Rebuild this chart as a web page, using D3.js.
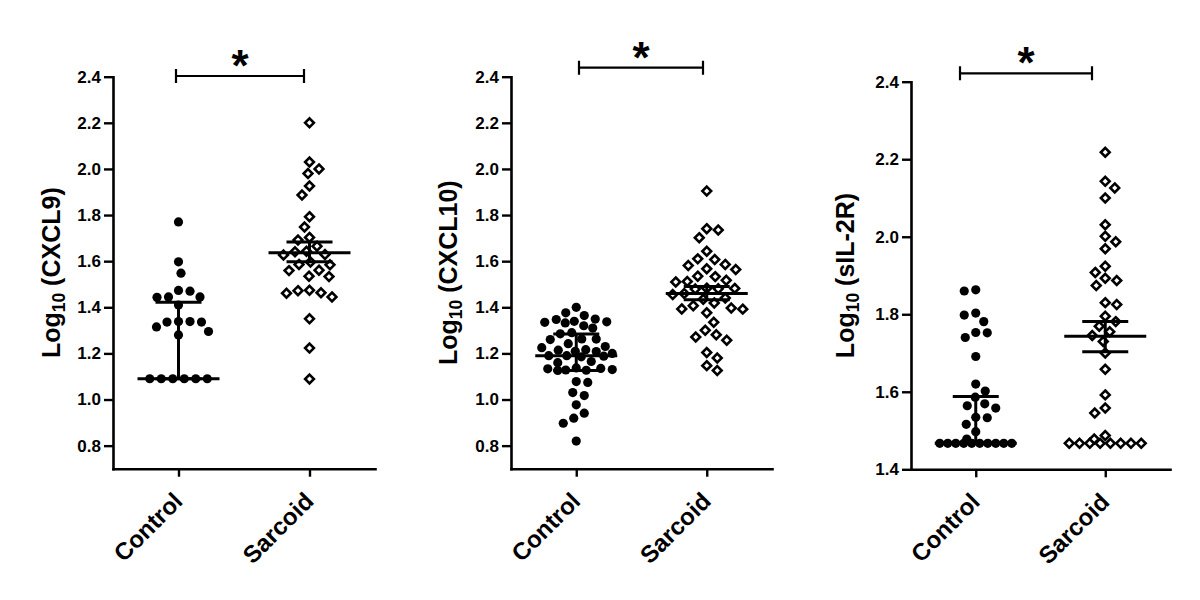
<!DOCTYPE html>
<html>
<head>
<meta charset="utf-8">
<script src="https://cdn.jsdelivr.net/npm/d3@7"></script>
<style>
  body { margin: 0; background: #fff; }
  svg { font-family: "Liberation Sans", Arial, sans-serif; font-weight: bold; }
</style>
</head>
<body>
<svg id="chart" width="1200" height="600"></svg>
<script>
const groups = ['Control', 'Sarcoid'];

const ticksWide = [0.8, 1.0, 1.2, 1.4, 1.6, 1.8, 2.0, 2.2, 2.4];
const ticksNarrow = [1.4, 1.6, 1.8, 2.0, 2.2, 2.4];

// log10 values
const cxcl9Control = [1.77, 1.597, 1.548, 1.473, 1.47, 1.445, 1.445, 1.443, 1.41, 1.338, 1.338, 1.336, 1.336,
  1.315, 1.295, 1.28, 1.09, 1.09, 1.09, 1.09, 1.09, 1.09];
const cxcl9Sarcoid = [2.20, 2.03, 2.0, 1.98, 1.926, 1.887, 1.793, 1.748, 1.703, 1.692, 1.665, 1.643, 1.641,
  1.629, 1.627, 1.596, 1.586, 1.584, 1.561, 1.559, 1.535, 1.533, 1.474, 1.472, 1.463, 1.461, 1.445, 1.35,
  1.223, 1.089];
const cxcl9Median = [1.09, 1.636];
const cxcl9Lower = [1.09, 1.598];
const cxcl9Upper = [1.422, 1.683];

const cxcl10Control = [1.40, 1.376, 1.364, 1.349, 1.347, 1.339, 1.337, 1.335, 1.332, 1.32, 1.31, 1.29, 1.285,
  1.263, 1.262, 1.26, 1.242, 1.23, 1.225, 1.216, 1.214, 1.209, 1.208, 1.20, 1.19, 1.19, 1.188, 1.185, 1.165,
  1.16, 1.137, 1.135, 1.133, 1.13, 1.128, 1.127, 1.126, 1.078, 1.074, 1.03, 1.017, 0.977, 0.941, 0.919,
  0.897, 0.82];
const cxcl10Sarcoid = [1.904, 1.741, 1.735, 1.702, 1.643, 1.61, 1.607, 1.586, 1.581, 1.567, 1.564, 1.535,
  1.533, 1.517, 1.512, 1.51, 1.483, 1.482, 1.48, 1.479, 1.46, 1.455, 1.44, 1.435, 1.419, 1.407, 1.397, 1.393,
  1.392, 1.376, 1.335, 1.30, 1.281, 1.271, 1.257, 1.204, 1.18, 1.147, 1.126];
const cxcl10Median = [1.19, 1.46];
const cxcl10Lower = [1.126, 1.433];
const cxcl10Upper = [1.284, 1.49];

const sil2rControl = [1.863, 1.86, 1.803, 1.798, 1.781, 1.753, 1.752, 1.740, 1.691, 1.620, 1.602, 1.586,
  1.569, 1.564, 1.558, 1.534, 1.533, 1.516, 1.497, 1.478,
  1.467, 1.467, 1.467, 1.467, 1.467, 1.467, 1.467, 1.467, 1.467, 1.467];
const sil2rSarcoid = [2.218, 2.143, 2.126, 2.10, 2.031, 2.001, 1.987, 1.969, 1.924, 1.908, 1.893, 1.887,
  1.874, 1.83, 1.825, 1.795, 1.781, 1.769, 1.755, 1.745, 1.73, 1.70, 1.658, 1.592, 1.558, 1.545, 1.487,
  1.478, 1.467, 1.467, 1.467, 1.467, 1.467, 1.467, 1.467, 1.467];
const sil2rMedian = [1.467, 1.743];
const sil2rLower = [1.467, 1.703];
const sil2rUpper = [1.588, 1.781];

const panels = [
  { name: 'CXCL9', series: [cxcl9Control, cxcl9Sarcoid], median: cxcl9Median, lower: cxcl9Lower, upper: cxcl9Upper,
    domain: [0.7, 2.4], ticks: ticksWide, left: 113, right: 375, top: 76.7, bottom: 468.7,
    labelX: 60, bracket: [176, 304, 76] },
  { name: 'CXCL10', series: [cxcl10Control, cxcl10Sarcoid], median: cxcl10Median, lower: cxcl10Lower, upper: cxcl10Upper,
    domain: [0.7, 2.4], ticks: ticksWide, left: 511, right: 772, top: 76.7, bottom: 468.7,
    labelX: 457, bracket: [579, 703, 67.7] },
  { name: 'sIL-2R', series: [sil2rControl, sil2rSarcoid], median: sil2rMedian, lower: sil2rLower, upper: sil2rUpper,
    domain: [1.4, 2.4], ticks: ticksNarrow, left: 911, right: 1170, top: 81.7, bottom: 469.3,
    labelX: 854, bracket: [960, 1092, 73.3] }
];

const svg = d3.select('#chart');
const spacing = 11.5;
const maxHalf = 36;

// column scatter: tied values become a row, the rest are placed greedily
// inside the column width (overlapping when the column is full)
function swarm(values, y) {
  const counts = d3.rollup(values, (v) => v.length, (v) => v);
  const rows = [];
  counts.forEach((k, v) => {
    if (k < 4) return;
    const s = Math.min(spacing, (2 * maxHalf) / (k - 1));
    for (let i = 0; i < k; i++) {
      rows.push({ value: v, dx: (i - (k - 1) / 2) * s, y: y(v) });
    }
  });
  const placed = [];
  const rest = values.filter((v) => counts.get(v) < 4).sort((a, b) => b - a);
  rest.forEach((v, i) => {
    const py = y(v);
    const gap = (x) => d3.min(placed, (p) => Math.hypot(p.dx - x, p.y - py)) ?? Infinity;
    const sign = i % 2 ? -1 : 1;
    let best = 0, bestGap = -1;
    for (let step = 0; step <= maxHalf; step += 0.5) {
      for (const x of [sign * step, -sign * step]) {
        const gp = gap(x);
        if (gp >= spacing) { best = x; bestGap = Infinity; break; }
        if (gp > bestGap + 0.5) { best = x; bestGap = gp; }
      }
      if (bestGap === Infinity) break;
    }
    placed.push({ value: v, dx: best, y: py });
  });
  return rows.concat(placed);
}

panels.forEach((p) => {
  const g = svg.append('g');

  const y = d3.scaleLinear().domain(p.domain).range([p.bottom, p.top]);
  const x = d3.scalePoint().domain(groups).range([p.left, p.right]).padding(0.5);

  // points
  p.series.forEach((values, gi) => {
    const cx = x(groups[gi]);
    const pts = swarm(values, y);
    if (gi === 0) {
      g.append('g').selectAll('circle')
        .data(pts)
        .join('circle')
        .attr('cx', (d) => cx + d.dx)
        .attr('cy', (d) => d.y)
        .attr('r', 4.6)
        .attr('fill', '#000');
    } else {
      g.append('g').selectAll('path')
        .data(pts)
        .join('path')
        .attr('d', (d) => {
          const px = cx + d.dx, py = d.y, h = 4.4;
          return `M${px},${py - h}L${px + h},${py}L${px},${py + h}L${px - h},${py}Z`;
        })
        .attr('fill', '#fff')
        .attr('stroke', '#000')
        .attr('stroke-width', 2.6);
    }
  });

  // median and error bars
  groups.forEach((grp, gi) => {
    const cx = x(grp);
    const lines = g.append('g').attr('stroke', '#000').attr('stroke-width', 3);
    lines.append('line').attr('x1', cx).attr('x2', cx)
      .attr('y1', y(p.lower[gi])).attr('y2', y(p.upper[gi]));
    [p.lower[gi], p.upper[gi]].forEach((v) => {
      lines.append('line').attr('x1', cx - 23).attr('x2', cx + 23).attr('y1', y(v)).attr('y2', y(v));
    });
    lines.append('line').attr('x1', cx - 41).attr('x2', cx + 41)
      .attr('y1', y(p.median[gi])).attr('y2', y(p.median[gi]));
  });

  // axes
  const yAxis = g.append('g')
    .attr('transform', `translate(${p.left},0)`)
    .call(d3.axisLeft(y).tickValues(p.ticks).tickFormat(d3.format('.1f'))
      .tickSize(9).tickSizeOuter(0).tickPadding(3));
  yAxis.attr('font-size', 17).attr('font-family', null);
  yAxis.selectAll('text').attr('fill', '#000');

  const xAxis = g.append('g')
    .attr('transform', `translate(0,${p.bottom})`)
    .call(d3.axisBottom(x).tickSize(8).tickSizeOuter(0));
  xAxis.attr('font-size', 24).attr('font-family', null);
  xAxis.selectAll('.tick text')
    .attr('y', 0).attr('dy', 0)
    .attr('transform', 'translate(5,34) rotate(-45)')
    .attr('text-anchor', 'end')
    .attr('fill', '#000');

  [yAxis, xAxis].forEach((a) => {
    a.select('.domain').attr('stroke-width', 2.6).attr('stroke-linecap', 'square');
    a.selectAll('.tick line').attr('stroke-width', 2.4);
  });

  // axis title
  const title = g.append('text')
    .attr('transform', `translate(${p.labelX},${(p.top + p.bottom) / 2}) rotate(-90)`)
    .attr('text-anchor', 'middle')
    .attr('font-size', 25);
  title.append('tspan').text('Log');
  title.append('tspan').attr('font-size', 17.5).attr('dy', 5).text('10');
  title.append('tspan').attr('dy', -5).text(` (${p.name})`);

  // significance bracket
  const [bx1, bx2, by] = p.bracket;
  const br = g.append('g').attr('stroke', '#000').attr('stroke-width', 2.2).attr('fill', 'none');
  br.append('path').attr('d', `M${bx1},${by - 7}V${by + 7}M${bx1},${by}H${bx2}M${bx2},${by - 7}V${by + 7}`);
  g.append('text')
    .attr('x', (bx1 + bx2) / 2)
    .attr('y', by + 5)
    .attr('text-anchor', 'middle')
    .attr('font-size', 44)
    .text('*');
});
</script>
</body>
</html>
